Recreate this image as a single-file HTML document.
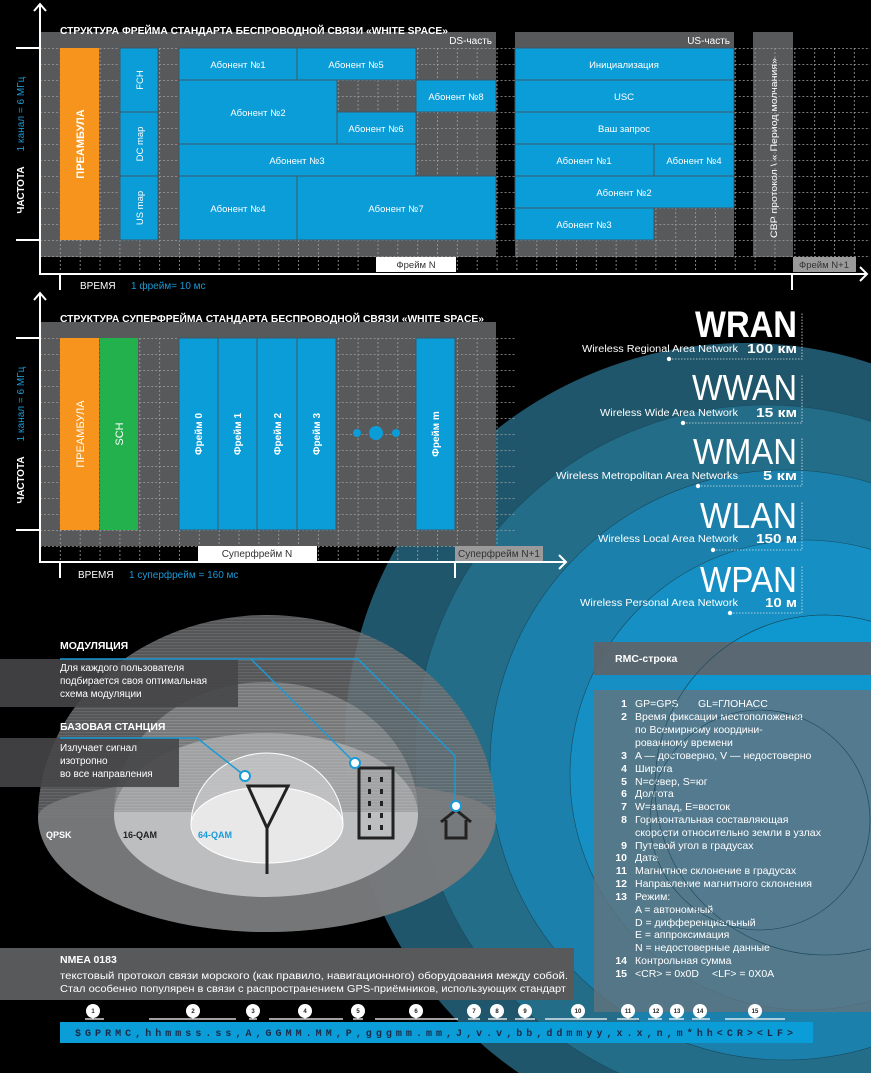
<!DOCTYPE html>
<html><head><meta charset="utf-8"><style>
html,body{margin:0;padding:0;background:#000;width:871px;height:1073px;overflow:hidden;}
svg{display:block;font-family:"Liberation Sans","Noto Sans CJK SC",sans-serif;}
</style></head><body>
<svg width="871" height="1073" viewBox="0 0 871 1073" xmlns="http://www.w3.org/2000/svg">
<defs>
<pattern id="g1" x="40" y="48" width="19.85" height="16" patternUnits="userSpaceOnUse">
<path d="M0 0.5H19.85" stroke="#a0a0a0" stroke-width="0.8" stroke-dasharray="2 2"/>
<path d="M0.5 0V16" stroke="#a0a0a0" stroke-width="0.8" stroke-dasharray="2 2"/>
</pattern>
<pattern id="g2" x="40" y="338" width="19.85" height="16" patternUnits="userSpaceOnUse">
<path d="M0 0.5H19.85" stroke="#a0a0a0" stroke-width="0.8" stroke-dasharray="2 2"/>
<path d="M0.5 0V16" stroke="#a0a0a0" stroke-width="0.8" stroke-dasharray="2 2"/>
</pattern>
<pattern id="st" x="0" y="0" width="4" height="3" patternUnits="userSpaceOnUse">
<rect width="4" height="1.2" fill="rgba(255,255,255,0.1)"/>
</pattern>
</defs>
<rect width="871" height="1073" fill="#000"/>

<!-- rings -->
<circle cx="745" cy="743" r="400" fill="#1f566b"/>
<circle cx="765" cy="755" r="350" fill="#246d89" stroke="#174a5e" stroke-width="0.6"/>
<circle cx="785" cy="765" r="295" fill="#1b80ab" stroke="#174a5e" stroke-width="0.6"/>
<circle cx="805" cy="775" r="235" fill="#1690c4" stroke="#174a5e" stroke-width="0.6"/>
<circle cx="825" cy="785" r="170" fill="#0f98d0" stroke="#174a5e" stroke-width="0.6"/>
<circle cx="760" cy="820" r="110" fill="none" stroke="#174a5e" stroke-width="0.6"/>

<!-- ===== FRAME 1 ===== -->
<rect x="41" y="32" width="455" height="225" fill="#58595b"/>
<rect x="515" y="32" width="219" height="225" fill="#58595b"/>
<rect x="753" y="32" width="40" height="225" fill="#58595b"/>
<rect x="41" y="48" width="829" height="224" fill="url(#g1)"/>
<text x="60" y="34" fill="#fff" font-size="10.5" font-weight="bold" textLength="388" lengthAdjust="spacingAndGlyphs">СТРУКТУРА ФРЕЙМА СТАНДАРТА БЕСПРОВОДНОЙ СВЯЗИ «WHITE SPACE»</text>
<text x="492" y="44" fill="#fff" font-size="10" text-anchor="end">DS-часть</text>
<text x="730" y="44" fill="#fff" font-size="10" text-anchor="end">US-часть</text>
<rect x="60" y="48" width="39" height="192" fill="#f7941d"/>
<text transform="translate(84,144) rotate(-90)" fill="#fff" font-size="11" font-weight="bold" text-anchor="middle">ПРЕАМБУЛА</text>
<g fill="#0a9dd8" stroke="#3f5666" stroke-width="1">
<rect x="120" y="48" width="38" height="64"/>
<rect x="120" y="112" width="38" height="64"/>
<rect x="120" y="176" width="38" height="64"/>
<rect x="179" y="48" width="118" height="32"/>
<rect x="297" y="48" width="119" height="32"/>
<rect x="179" y="80" width="158" height="64"/>
<rect x="416" y="80" width="80" height="32"/>
<rect x="337" y="112" width="79" height="32"/>
<rect x="179" y="144" width="237" height="32"/>
<rect x="179" y="176" width="118" height="64"/>
<rect x="297" y="176" width="199" height="64"/>
<rect x="515" y="48" width="219" height="32"/>
<rect x="515" y="80" width="219" height="32"/>
<rect x="515" y="112" width="219" height="32"/>
<rect x="515" y="144" width="139" height="32"/>
<rect x="654" y="144" width="80" height="32"/>
<rect x="515" y="176" width="219" height="32"/>
<rect x="515" y="208" width="139" height="32"/>
</g>
<g fill="#fff" font-size="9.5" text-anchor="middle">
<text transform="translate(143,80) rotate(-90)">FCH</text>
<text transform="translate(143,144) rotate(-90)">DC map</text>
<text transform="translate(143,208) rotate(-90)">US map</text>
<text x="238" y="68">Абонент №1</text>
<text x="356" y="68">Абонент №5</text>
<text x="258" y="116">Абонент №2</text>
<text x="456" y="100">Абонент №8</text>
<text x="376" y="132">Абонент №6</text>
<text x="297" y="164">Абонент №3</text>
<text x="238" y="212">Абонент №4</text>
<text x="396" y="212">Абонент №7</text>
<text x="624" y="68">Инициализация</text>
<text x="624" y="100">USC</text>
<text x="624" y="132">Ваш запрос</text>
<text x="584" y="164">Абонент №1</text>
<text x="694" y="164">Абонент №4</text>
<text x="624" y="196">Абонент №2</text>
<text x="584" y="228">Абонент №3</text>
<text transform="translate(777,148) rotate(-90)" textLength="180" lengthAdjust="spacingAndGlyphs">CBP протокол \ « Период молчания»</text>
</g>
<rect x="376" y="257" width="80" height="15" fill="#fff"/>
<text x="416" y="268" fill="#333" font-size="9.5" text-anchor="middle">Фрейм N</text>
<rect x="793" y="257" width="63" height="15" fill="#9a9a9a"/>
<text x="824" y="268" fill="#333" font-size="9.5" text-anchor="middle">Фрейм N+1</text>
<g stroke="#fff" stroke-width="2" fill="none">
<path d="M40 5V274H866"/>
<path d="M34 11L40 4L46 11"/>
<path d="M860 267L867 274L860 281"/>
<path d="M16 48H40M16 240H40M60 274V290M792 274V290"/>
</g>
<text x="80" y="289" fill="#fff" font-size="10">ВРЕМЯ</text>
<text x="131" y="289" fill="#1a9ad6" font-size="10">1 фрейм= 10 мс</text>
<text transform="translate(24,190) rotate(-90)" fill="#fff" font-size="10" font-weight="bold" text-anchor="middle">ЧАСТОТА</text>
<text transform="translate(24,114) rotate(-90)" fill="#1a9ad6" font-size="10" text-anchor="middle">1 канал = 6 МГц</text>

<!-- ===== SUPERFRAME ===== -->
<rect x="41" y="322" width="455" height="224" fill="#58595b"/>
<rect x="41" y="338" width="474" height="224" fill="url(#g2)"/>
<text x="60" y="322" fill="#fff" font-size="10.5" font-weight="bold" textLength="424" lengthAdjust="spacingAndGlyphs">СТРУКТУРА СУПЕРФРЕЙМА СТАНДАРТА БЕСПРОВОДНОЙ СВЯЗИ «WHITE SPACE»</text>
<rect x="60" y="338" width="39" height="192" fill="#f7941d"/>
<rect x="100" y="338" width="38" height="192" fill="#22b14c"/>
<g fill="#0a9dd8" stroke="#3f5666" stroke-width="1">
<rect x="179" y="338" width="39" height="192"/>
<rect x="218" y="338" width="39" height="192"/>
<rect x="257" y="338" width="40" height="192"/>
<rect x="297" y="338" width="39" height="192"/>
<rect x="416" y="338" width="39" height="192"/>
</g>
<g fill="#0a9dd8"><circle cx="357" cy="433" r="4"/><circle cx="376" cy="433" r="7"/><circle cx="396" cy="433" r="4"/></g>
<g fill="#fff" font-size="10" text-anchor="middle">
<text transform="translate(84,434) rotate(-90)" font-size="11">ПРЕАМБУЛА</text>
<text transform="translate(123,434) rotate(-90)" font-size="11">SCH</text>
<text transform="translate(202,434) rotate(-90)" font-weight="bold">Фрейм 0</text>
<text transform="translate(241,434) rotate(-90)" font-weight="bold">Фрейм 1</text>
<text transform="translate(281,434) rotate(-90)" font-weight="bold">Фрейм 2</text>
<text transform="translate(320,434) rotate(-90)" font-weight="bold">Фрейм 3</text>
<text transform="translate(439,434) rotate(-90)" font-weight="bold">Фрейм m</text>
</g>
<rect x="198" y="546" width="119" height="15" fill="#fff"/>
<text x="257" y="557" fill="#333" font-size="10" text-anchor="middle">Суперфрейм N</text>
<rect x="455" y="546" width="88" height="15" fill="#9a9a9a"/>
<text x="499" y="557" fill="#333" font-size="10" text-anchor="middle">Суперфрейм N+1</text>
<g stroke="#fff" stroke-width="2" fill="none">
<path d="M40 294V562H565"/>
<path d="M34 300L40 293L46 300"/>
<path d="M559 555L566 562L559 569"/>
<path d="M16 338H40M16 530H40M60 562V578M455 562V578"/>
</g>
<text x="78" y="578" fill="#fff" font-size="10">ВРЕМЯ</text>
<text x="129" y="578" fill="#1a9ad6" font-size="10">1 суперфрейм = 160 мс</text>
<text transform="translate(24,480) rotate(-90)" fill="#fff" font-size="10" font-weight="bold" text-anchor="middle">ЧАСТОТА</text>
<text transform="translate(24,404) rotate(-90)" fill="#1a9ad6" font-size="10" text-anchor="middle">1 канал = 6 МГц</text>

<!-- ===== NETWORK LABELS ===== -->
<g fill="#fff">
<text x="695" y="337" font-size="37" font-weight="bold" textLength="102" lengthAdjust="spacingAndGlyphs">WRAN</text>
<text x="582" y="352" font-size="10" textLength="156" lengthAdjust="spacingAndGlyphs">Wireless Regional Area Network</text>
<text x="747" y="353" font-size="13" font-weight="bold" textLength="50" lengthAdjust="spacingAndGlyphs">100 км</text>
<text x="692" y="400" font-size="36" textLength="105" lengthAdjust="spacingAndGlyphs">WWAN</text>
<text x="600" y="416" font-size="10" textLength="138" lengthAdjust="spacingAndGlyphs">Wireless Wide Area Network</text>
<text x="756" y="417" font-size="13" font-weight="bold" textLength="41" lengthAdjust="spacingAndGlyphs">15 км</text>
<text x="693" y="464" font-size="36" textLength="104" lengthAdjust="spacingAndGlyphs">WMAN</text>
<text x="556" y="479" font-size="10" textLength="182" lengthAdjust="spacingAndGlyphs">Wireless Metropolitan Area Networks</text>
<text x="763" y="480" font-size="13" font-weight="bold" textLength="34" lengthAdjust="spacingAndGlyphs">5 км</text>
<text x="700" y="528" font-size="36" textLength="97" lengthAdjust="spacingAndGlyphs">WLAN</text>
<text x="598" y="542" font-size="10" textLength="140" lengthAdjust="spacingAndGlyphs">Wireless Local Area Network</text>
<text x="756" y="543" font-size="13" font-weight="bold" textLength="41" lengthAdjust="spacingAndGlyphs">150 м</text>
<text x="700" y="592" font-size="36" textLength="97" lengthAdjust="spacingAndGlyphs">WPAN</text>
<text x="580" y="606" font-size="10" textLength="158" lengthAdjust="spacingAndGlyphs">Wireless Personal Area Network</text>
<text x="765" y="607" font-size="13" font-weight="bold" textLength="32" lengthAdjust="spacingAndGlyphs">10 м</text>
</g>
<g stroke="#ddd" stroke-width="0.8" stroke-dasharray="1.5 1.5" fill="none">
<path d="M669 359H802V312M683 423H802V375M698 486H802V438M713 550H802V502M730 613H802V565"/>
</g>
<g fill="#fff"><circle cx="669" cy="359" r="2.2"/><circle cx="683" cy="423" r="2.2"/><circle cx="698" cy="486" r="2.2"/><circle cx="713" cy="550" r="2.2"/><circle cx="730" cy="613" r="2.2"/></g>

<!-- ===== DOME ===== -->
<path d="M38 817A229 202 0 0 1 496 817A229 115 0 0 1 38 817Z" fill="rgba(105,106,108,0.8)"/>
<path d="M38 817A229 202 0 0 1 496 817Z" fill="url(#st)"/>
<path d="M38 817A229 115 0 0 0 496 817A229 40 0 0 0 38 817Z" fill="rgba(125,126,128,0.8)"/>
<ellipse cx="266" cy="815" rx="152" ry="82" fill="rgba(195,196,198,0.92)"/>
<path d="M114 812A152 130 0 0 1 418 812Z" fill="rgba(140,141,143,0.6)"/>
<path d="M114 812A152 130 0 0 1 418 812Z" fill="url(#st)"/>
<path d="M191 825A76 72 0 0 1 343 825Z" fill="rgba(210,210,212,0.6)" stroke="#fff" stroke-width="1"/>
<ellipse cx="267" cy="825" rx="76" ry="38" fill="#e8e8e9" stroke="#fff" stroke-width="1"/>
<text x="46" y="838" fill="#fff" font-size="9" font-weight="bold">QPSK</text>
<text x="123" y="838" fill="#222" font-size="9" font-weight="bold">16-QAM</text>
<text x="198" y="838" fill="#1a9ad6" font-size="9" font-weight="bold">64-QAM</text>
<!-- info boxes -->
<rect x="0" y="659" width="238" height="48" fill="rgba(70,70,72,0.9)"/>
<rect x="0" y="738" width="179" height="49" fill="rgba(70,70,72,0.9)"/>
<text x="60" y="649" fill="#fff" font-size="10.5" font-weight="bold">МОДУЛЯЦИЯ</text>
<text x="60" y="730" fill="#fff" font-size="10.5" font-weight="bold">БАЗОВАЯ СТАНЦИЯ</text>
<g fill="#fff" font-size="10">
<text x="60" y="671">Для каждого пользователя</text>
<text x="60" y="684">подбирается своя оптимальная</text>
<text x="60" y="697">схема модуляции</text>
<text x="60" y="751">Излучает сигнал</text>
<text x="60" y="764">изотропно</text>
<text x="60" y="777">во все направления</text>
</g>
<g stroke="#1a9ad6" stroke-width="1.5" fill="none">
<path d="M60 659H251L355 763"/>
<path d="M251 659H358L455 756V806"/>
<path d="M60 738H197L245 776"/>
</g>
<!-- icons -->
<g stroke="#222" stroke-width="3" fill="none">
<path d="M267 874V828M248 786L267 828L288 786Z"/>
<rect x="359" y="768" width="34" height="70"/>
<path d="M441 822L456 810L471 822M446 820V838H466V820"/>
</g>
<g fill="#222">
<rect x="368" y="777" width="3" height="5"/><rect x="380" y="777" width="3" height="5"/>
<rect x="368" y="789" width="3" height="5"/><rect x="380" y="789" width="3" height="5"/>
<rect x="368" y="801" width="3" height="5"/><rect x="380" y="801" width="3" height="5"/>
<rect x="368" y="813" width="3" height="5"/><rect x="380" y="813" width="3" height="5"/>
<rect x="368" y="825" width="3" height="5"/><rect x="380" y="825" width="3" height="5"/>
</g>
<g fill="#fff" stroke="#1a9ad6" stroke-width="2">
<circle cx="245" cy="776" r="5"/><circle cx="355" cy="763" r="5"/><circle cx="456" cy="806" r="5"/>
</g>

<!-- ===== RMC box ===== -->
<rect x="594" y="642" width="277" height="33" fill="rgba(95,100,105,0.92)"/>
<rect x="594" y="690" width="277" height="322" fill="rgba(100,115,125,0.8)"/>
<text x="615" y="662" fill="#fff" font-size="10.5" font-weight="bold">RMC-строка</text>
<g fill="#fff" font-size="10.5">
<g font-weight="bold" text-anchor="end">
<text x="627" y="707">1</text><text x="627" y="720">2</text><text x="627" y="759">3</text><text x="627" y="772">4</text><text x="627" y="785">5</text><text x="627" y="797">6</text><text x="627" y="810">7</text><text x="627" y="823">8</text><text x="627" y="849">9</text><text x="627" y="861">10</text><text x="627" y="874">11</text><text x="627" y="887">12</text><text x="627" y="900">13</text><text x="627" y="964">14</text><text x="627" y="977">15</text>
</g>
<text x="635" y="707">GP=GPS</text><text x="698" y="707">GL=ГЛОНАСС</text>
<text x="635" y="720">Время фиксации местоположения</text>
<text x="635" y="733">по Всемирному координи-</text>
<text x="635" y="746">рованному времени</text>
<text x="635" y="759">A — достоверно, V — недостоверно</text>
<text x="635" y="772">Широта</text>
<text x="635" y="785">N=север, S=юг</text>
<text x="635" y="797">Долгота</text>
<text x="635" y="810">W=запад, E=восток</text>
<text x="635" y="823">Горизонтальная составляющая</text>
<text x="635" y="836" textLength="186" lengthAdjust="spacingAndGlyphs">скорости относительно земли в узлах</text>
<text x="635" y="849">Путевой угол в градусах</text>
<text x="635" y="861">Дата</text>
<text x="635" y="874">Магнитное склонение в градусах</text>
<text x="635" y="887">Направление магнитного склонения</text>
<text x="635" y="900">Режим:</text>
<text x="635" y="913">A = автономный</text>
<text x="635" y="926">D = дифференциальный</text>
<text x="635" y="938">E = аппроксимация</text>
<text x="635" y="951">N = недостоверные данные</text>
<text x="635" y="964">Контрольная сумма</text>
<text x="635" y="977">&lt;CR&gt; = 0x0D</text><text x="712" y="977">&lt;LF&gt; = 0X0A</text>
</g>
<g stroke="#174a5e" stroke-width="0.6" fill="none"><circle cx="760" cy="820" r="110"/><circle cx="825" cy="785" r="170"/></g>

<!-- ===== NMEA ===== -->
<rect x="0" y="948" width="574" height="52" fill="#58595b"/>
<text x="60" y="963" fill="#fff" font-size="10.5" font-weight="bold">NMEA 0183</text>
<text x="60" y="979" fill="#fff" font-size="10" textLength="508" lengthAdjust="spacingAndGlyphs">текстовый протокол связи морского (как правило, навигационного) оборудования между собой.</text>
<text x="60" y="992" fill="#fff" font-size="10" textLength="506" lengthAdjust="spacingAndGlyphs">Стал особенно популярен в связи с распространением GPS-приёмников, использующих стандарт</text>
<rect x="60" y="1022" width="753" height="21" fill="#0a9dd8"/>
<text x="75" y="1036" fill="#1c2b48" font-size="10" font-weight="bold" font-family="Liberation Mono, monospace" textLength="718" lengthAdjust="spacing">$GPRMC,hhmmss.ss,A,GGMM.MM,P,gggmm.mm,J,v.v,bb,ddmmyy,x.x,n,m*hh&lt;CR&gt;&lt;LF&gt;</text>
<g stroke="#fff" stroke-width="1.3">
<path d="M85 1019H104M149 1019H236M249 1019H257M269 1019H343M353 1019H363M375 1019H458M468 1019H480M488 1019H507M515 1019H535M545 1019H607M617 1019H639M648 1019H662M669 1019H684M692 1019H710M725 1019H785"/>
<path d="M93 1012V1019M193 1012V1019M253 1012V1019M305 1012V1019M358 1012V1019M416 1012V1019M474 1012V1019M497 1012V1019M525 1012V1019M578 1012V1019M628 1012V1019M656 1012V1019M677 1012V1019M700 1012V1019M755 1012V1019"/>
</g>
<g fill="#fff">
<circle cx="93" cy="1011" r="7"/><circle cx="193" cy="1011" r="7"/><circle cx="253" cy="1011" r="7"/><circle cx="305" cy="1011" r="7"/><circle cx="358" cy="1011" r="7"/><circle cx="416" cy="1011" r="7"/><circle cx="474" cy="1011" r="7"/><circle cx="497" cy="1011" r="7"/><circle cx="525" cy="1011" r="7"/><circle cx="578" cy="1011" r="7"/><circle cx="628" cy="1011" r="7"/><circle cx="656" cy="1011" r="7"/><circle cx="677" cy="1011" r="7"/><circle cx="700" cy="1011" r="7"/><circle cx="755" cy="1011" r="7"/>
</g>
<g fill="#222" font-size="6" font-weight="bold" text-anchor="middle">
<text x="93" y="1013">1</text><text x="193" y="1013">2</text><text x="253" y="1013">3</text><text x="305" y="1013">4</text><text x="358" y="1013">5</text><text x="416" y="1013">6</text><text x="474" y="1013">7</text><text x="497" y="1013">8</text><text x="525" y="1013">9</text><text x="578" y="1013">10</text><text x="628" y="1013">11</text><text x="656" y="1013">12</text><text x="677" y="1013">13</text><text x="700" y="1013">14</text><text x="755" y="1013">15</text>
</g>
</svg>
</body></html>
